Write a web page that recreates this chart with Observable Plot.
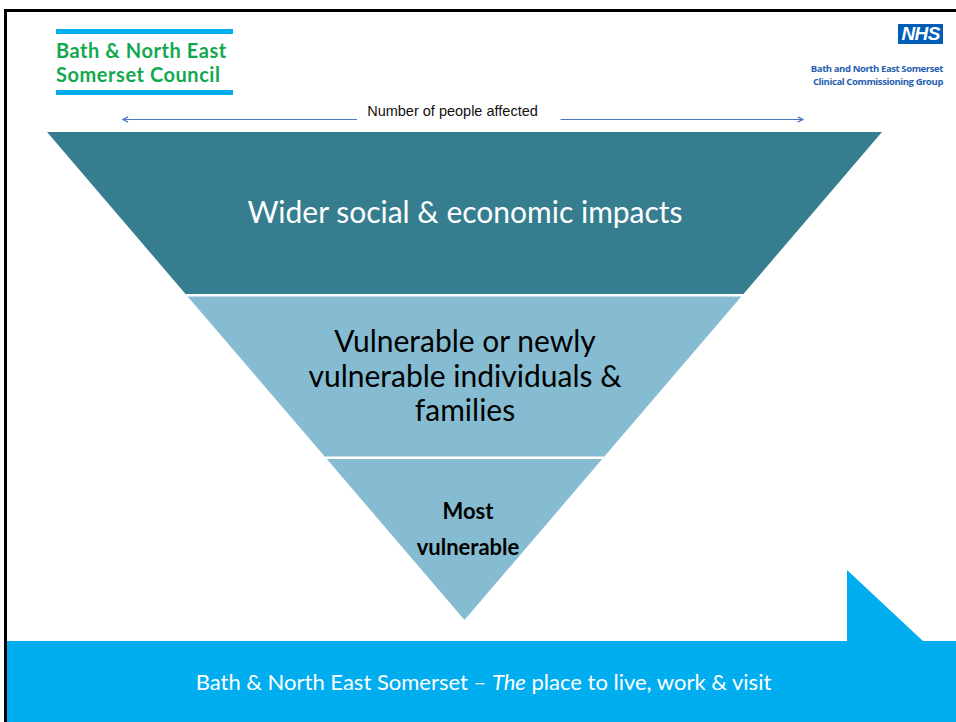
<!DOCTYPE html>
<html>
<head>
<meta charset="utf-8">
<script src="https://cdn.jsdelivr.net/npm/d3@7"></script>
<script src="https://cdn.jsdelivr.net/npm/@observablehq/plot@0.6"></script>
<style>
  html, body { margin: 0; padding: 0; background: #fff; }
  #slide { position: relative; width: 956px; height: 722px; overflow: hidden; background: #fff; font-family: Lato, "Open Sans", sans-serif; }
  #borderTop { position: absolute; left: 4px; top: 9px; width: 952px; height: 3px; background: #000; }
  #borderLeft { position: absolute; left: 4px; top: 9px; width: 3px; height: 713px; background: #000; }
  #logoLeft { position: absolute; left: 56px; top: 29px; width: 177px; }
  #logoLeft .bar { height: 5px; background: #00AEEF; }
  #logoLeft .txt { color: #12A84F; font-weight: bold; font-size: 20px; line-height: 24px; padding: 4px 0 4px 0; letter-spacing: 0.55px; white-space: nowrap; }
  #logoRight { position: absolute; right: 13px; top: 24px; text-align: right; }
  #nhs { display: inline-block; background: #005EB8; color: #fff; font-family: "Liberation Sans", Arial, sans-serif; font-weight: bold; font-style: italic; font-size: 19px; line-height: 20px; padding: 0 3px; letter-spacing: -0.5px; }
  #ccg { margin-top: 19px; color: #1F5FB0; font-weight: bold; font-size: 9.5px; line-height: 12.5px; font-family: "Open Sans", sans-serif; letter-spacing: -0.4px; }
  #chart { position: absolute; left: 0; top: 100px; }
  #notch { position: absolute; left: 847px; top: 570px; width: 77px; height: 72px; background: #00AEEF; clip-path: polygon(0 0, 0 100%, 100% 100%); }
  #footer { position: absolute; left: 7px; top: 641px; width: 949px; height: 81px; background: #00AEEF; color: #fff; text-align: center; font-size: 22px; line-height: 81px; text-indent: 4px; }
</style>
</head>
<body>
<div id="slide">
  <div id="borderTop"></div>
  <div id="borderLeft"></div>
  <div id="logoLeft">
    <div class="bar"></div>
    <div class="txt">Bath &amp; North East<br>Somerset Council</div>
    <div class="bar"></div>
  </div>
  <div id="logoRight">
    <span id="nhs">NHS</span>
    <div id="ccg">Bath and North East Somerset<br>Clinical Commissioning Group</div>
  </div>
  <div id="chart"></div>
  <div id="notch"></div>
  <div id="footer">Bath &amp; North East Somerset – <i>The</i> place to live, work &amp; visit</div>
</div>
<script>
// ---- data ----
const levelNames = [
  "Wider social & economic impacts",
  "Vulnerable or newly\nvulnerable individuals &\nfamilies",
  "Most\nvulnerable"
];
const levelDepth = [0, 1, 2];          // top of each level (each level spans one unit of depth)
const totalDepth = 3;
const axisLabel = "Number of people affected";
const arrowEnds = [-0.82, 0.81];       // relative extent of "number of people affected" arrow
const labelGap = [-0.26, 0.23];        // gap left for the label along the arrow
const labelCenter = -0.03;

// ---- derived geometry (width of funnel proportional to remaining depth) ----
const halfWidth = d => (totalDepth - d) / totalDepth;
const bandPoints = levelNames.flatMap((name, i) => [levelDepth[i], levelDepth[i] + 1].map(d => ({
  level: name, depth: d, x1: -halfWidth(d), x2: halfWidth(d)
})));
const boundaries = levelDepth.slice(1).map(d => ({depth: d, x1: -halfWidth(d), x2: halfWidth(d)}));
const labels = levelNames.map((name, i) => ({name, depth: levelDepth[i] + 0.5, i}));

const levelFill = ["#367E8F", "#86BCD1", "#86BCD1"];
const textFill = ["#ffffff", "#000000", "#000000"];

const chart = Plot.plot({
  width: 956,
  height: 540,
  marginLeft: 47,
  marginRight: 74,
  marginTop: 32,
  marginBottom: 20,
  x: {domain: [-1, 1], axis: null},
  y: {domain: [0, totalDepth], reverse: true, axis: null},
  color: {type: "ordinal", domain: levelNames, range: levelFill},
  style: {background: "transparent", overflow: "visible"},
  marks: [
    Plot.areaX(bandPoints, {x1: "x1", x2: "x2", y: "depth", z: "level", fill: "level", curve: "linear"}),
    Plot.ruleY(boundaries, {y: "depth", x1: "x1", x2: "x2", stroke: "white", strokeWidth: 2.5}),
    Plot.text(labels.filter(d => d.i === 0), {x: 0, y: "depth", text: "name", fill: textFill[0], fontSize: 30, dy: 0, fontFamily: "Lato"}),
    Plot.text(labels.filter(d => d.i === 1), {x: 0, y: "depth", text: "name", fill: textFill[1], fontSize: 30, lineHeight: 1.15, dy: -1, fontFamily: "Lato"}),
    Plot.text(labels.filter(d => d.i === 2), {x: 0, y: "depth", text: "name", fill: textFill[2], fontSize: 22, fontWeight: "bold", lineHeight: 1.64, dx: 3, dy: -14, fontFamily: "Lato"}),
    Plot.arrow([0, 1], {
      x1: i => labelGap[i], x2: i => arrowEnds[i], y1: -0.08, y2: -0.08,
      stroke: "#4A78BD", strokeWidth: 1.2, headLength: 7, headAngle: 50
    }),
    Plot.text([axisLabel], {x: labelCenter, y: -0.13, text: d => d, fontSize: 14.5, fill: "#111", fontFamily: "Liberation Sans"})
  ]
});
document.getElementById("chart").append(chart);
</script>
</body>
</html>
